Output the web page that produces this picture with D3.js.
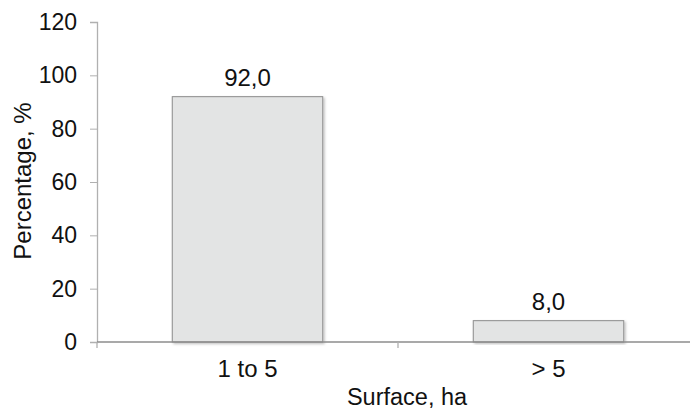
<!DOCTYPE html>
<html lang="en">
<head>
<meta charset="utf-8">
<script src="https://d3js.org/d3.v7.min.js"></script>
<style>
  body { margin: 0; background: #fff; }
  text { font-family: "Liberation Sans", Arial, sans-serif; fill: #111; }
</style>
</head>
<body>
<div id="chart"></div>
<script>
var categories = ["1 to 5", "> 5"];
var values = [92.0, 8.0];
var yTicks = [0, 20, 40, 60, 80, 100, 120];

var W = 690, H = 411;
var plotLeft = 97, plotRight = 699, plotTop = 22, plotBottom = 342;

var svg = d3.select("#chart").append("svg")
    .attr("width", W).attr("height", H);

var defs = svg.append("defs");
var f = defs.append("filter").attr("id", "shadow")
    .attr("x", "-5%").attr("y", "-5%").attr("width", "115%").attr("height", "115%");
f.append("feDropShadow").attr("dx", 1.5).attr("dy", 1.5).attr("stdDeviation", 1.2)
    .attr("flood-color", "#000").attr("flood-opacity", 0.25);

var x = d3.scaleBand().domain(categories).range([plotLeft, plotRight]).paddingInner(0.5).paddingOuter(0.25);
var y = d3.scaleLinear().domain([0, 120]).range([plotBottom, plotTop]);

// y axis
var yAxis = svg.append("g")
    .attr("transform", "translate(" + plotLeft + ",0)")
    .call(d3.axisLeft(y).tickValues(yTicks).tickSize(7).tickPadding(13).tickFormat(d3.format("d")));
yAxis.select(".domain").attr("stroke", "#b0b0b0").attr("stroke-width", 1.3);
yAxis.selectAll(".tick line").attr("stroke", "#b0b0b0");
yAxis.selectAll(".tick text").style("font-size", "23px").attr("fill", "#111");

// bars
svg.selectAll(".bar").data(values).enter().append("rect")
    .attr("class", "bar")
    .attr("x", function(d, i) { return x(categories[i]); })
    .attr("y", function(d) { return y(d); })
    .attr("width", x.bandwidth())
    .attr("height", function(d) { return y(0) - y(d); })
    .attr("fill", "#e3e4e4")
    .attr("stroke", "#8c8c8c")
    .attr("stroke-width", 1)
    .attr("filter", "url(#shadow)");

// x axis
var xAxis = svg.append("g")
    .attr("transform", "translate(0," + plotBottom + ")");
xAxis.append("line").attr("x1", plotLeft).attr("x2", plotRight)
    .attr("stroke", "#8c8c8c").attr("stroke-width", 1.3);
var seps = [plotLeft, (x(categories[0]) + x.bandwidth() + x(categories[1])) / 2];
xAxis.selectAll(".sep").data(seps).enter().append("line")
    .attr("x1", function(d) { return d; }).attr("x2", function(d) { return d; })
    .attr("y1", 0).attr("y2", 6).attr("stroke", "#b0b0b0").attr("stroke-width", 1.3);
xAxis.selectAll(".lab").data(categories).enter().append("text")
    .attr("x", function(d) { return x(d) + x.bandwidth() / 2; })
    .attr("y", 35).attr("text-anchor", "middle")
    .style("font-size", "24px").text(function(d) { return d; });

// value labels
svg.selectAll(".val").data(values).enter().append("text")
    .attr("x", function(d, i) { return x(categories[i]) + x.bandwidth() / 2; })
    .attr("y", function(d) { return y(d) - 10.5; })
    .attr("text-anchor", "middle")
    .style("font-size", "24px")
    .text(function(d) { return d.toFixed(1).replace(".", ","); });

// axis titles
svg.append("text")
    .attr("x", 407).attr("y", 405)
    .attr("text-anchor", "middle").style("font-size", "23.5px")
    .text("Surface, ha");
svg.append("text")
    .attr("transform", "translate(31,181) rotate(-90)")
    .attr("text-anchor", "middle").style("font-size", "24px")
    .text("Percentage, %");
</script>
</body>
</html>
